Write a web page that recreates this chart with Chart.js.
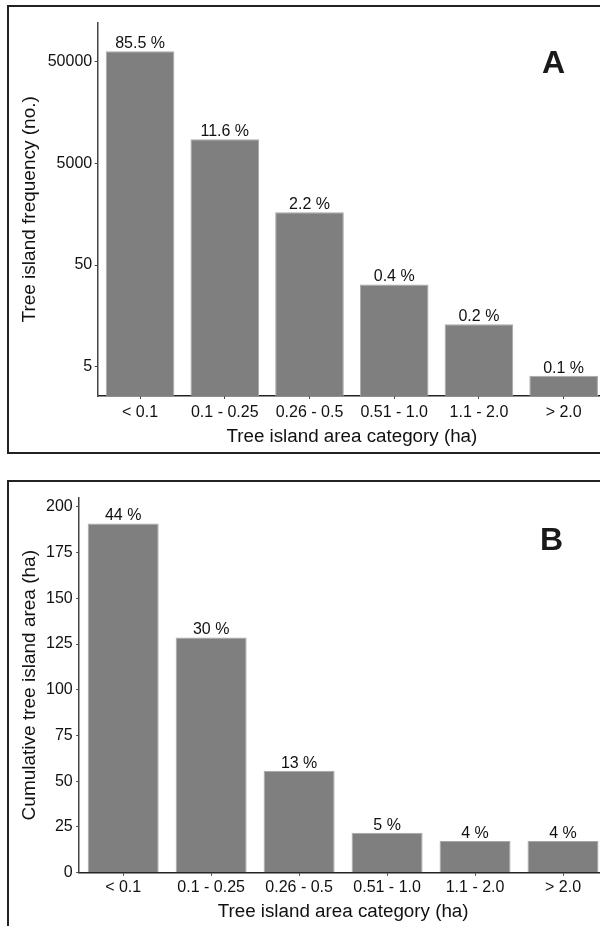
<!DOCTYPE html>
<html>
<head>
<meta charset="utf-8">
<script src="https://cdn.jsdelivr.net/npm/chart.js@4.4.0/dist/chart.umd.min.js"></script>
<style>
  html, body { margin: 0; padding: 0; background: #fff; overflow: hidden; }
  body { width: 600px; height: 926px; position: relative; font-family: "Liberation Sans", Arial, sans-serif; }
  .box { position: absolute; left: 7px; width: 700px; border: 2.5px solid #222; box-sizing: border-box; }
  #boxA { top: 5px; height: 449px; }
  #boxB { top: 480px; height: 600px; }
  canvas { position: absolute; left: 0; }
  #chartA { top: 0; }
  #chartB { top: 481px; }
  .letter { position: absolute; font: bold 32px "Liberation Sans", Arial, sans-serif; color: #1a1a1a; line-height: 32px; }
  #letterA { left: 542px; top: 46px; }
  #letterB { left: 540px; top: 523px; }
</style>
</head>
<body>
<div class="box" id="boxA"></div>
<div class="box" id="boxB"></div>
<canvas id="chartA" width="612" height="454"></canvas>
<canvas id="chartB" width="612" height="445"></canvas>
<div class="letter" id="letterA">A</div>
<div class="letter" id="letterB">B</div>
<script>
const categories = ['< 0.1', '0.1 - 0.25', '0.26 - 0.5', '0.51 - 1.0', '1.1 - 2.0', '> 2.0'];

// panel A: frequency on the log axis (in the axis' own units), and share of islands
const frequencyA = [6325, 862, 165, 32.3, 13.1, 4.08];
const percentA = [85.5, 11.6, 2.2, 0.4, 0.2, 0.1];
const tickValuesA = [5, 50, 500, 5000];
const tickLabelsA = ['5', '50', '5000', '50000'];

// panel B: cumulative area (ha) and share of total area
const areaB = [190.9, 128.6, 55.7, 21.9, 17.3, 17.3];
const percentB = [44, 30, 13, 5, 4, 4];
const tickValuesB = [0, 25, 50, 75, 100, 125, 150, 175, 200];

const FONT = "'Liberation Sans', Arial, sans-serif";
const TEXT = '#111';
Chart.defaults.font.family = FONT;
Chart.defaults.font.size = 16;
Chart.defaults.color = TEXT;

function barLabels(texts) {
  return {
    id: 'barLabels',
    afterDatasetsDraw(chart) {
      const ctx = chart.ctx;
      ctx.save();
      ctx.font = '16px ' + FONT;
      ctx.fillStyle = TEXT;
      ctx.textAlign = 'center';
      ctx.textBaseline = 'alphabetic';
      chart.getDatasetMeta(0).data.forEach((bar, i) => {
        ctx.fillText(texts[i], bar.x, bar.y - 3);
      });
      ctx.restore();
    }
  };
}

function makeChart(canvasId, opts) {
  return new Chart(document.getElementById(canvasId), {
    type: 'bar',
    data: {
      labels: categories,
      datasets: [{
        data: opts.values,
        backgroundColor: '#7f7f7f',
        borderColor: '#a8a8a8',
        borderWidth: 1,
        barPercentage: opts.barPct,
        categoryPercentage: 1.0,
      }],
    },
    options: {
      responsive: false,
      animation: false,
      layout: { padding: { top: opts.top, right: opts.right, left: 0, bottom: 0 } },
      plugins: { legend: { display: false }, tooltip: { enabled: false } },
      scales: {
        x: {
          grid: { display: true, drawOnChartArea: false, offset: false, tickLength: 3, color: '#444' },
          border: { color: '#222', width: 1.5 },
          ticks: { padding: opts.xTickPad, color: TEXT, maxRotation: 0 },
          title: { display: true, text: 'Tree island area category (ha)', color: TEXT,
                   font: { size: 18.8 }, padding: { top: 0, bottom: opts.xTitlePad } },
          afterFit(scale) { scale.height = opts.xHeight; },
        },
        y: opts.y,
      },
    },
    plugins: [barLabels(opts.labels)],
  });
}

makeChart('chartA', {
  values: frequencyA,
  labels: percentA.map(p => p.toFixed(1) + ' %'),
  barPct: 0.81,
  top: 22.7,
  right: 6,
  xHeight: 58,
  xTickPad: 4,
  xTitlePad: 5.7,
  y: {
    type: 'logarithmic',
    min: 2.58,
    max: 12085,
    grid: { display: true, drawOnChartArea: false, tickLength: 3, color: '#444' },
    border: { color: '#444', width: 1.5 },
    ticks: { padding: 2.5, color: TEXT, callback: (v, i) => tickLabelsA[i] },
    afterBuildTicks(scale) { scale.ticks = tickValuesA.map(v => ({ value: v })); },
    title: { display: true, text: 'Tree island frequency (no.)', color: TEXT,
             font: { size: 19 }, padding: { top: 18.6, bottom: 0 } },
    afterFit(scale) { scale.width = 97.7; },
  },
});

makeChart('chartB', {
  values: areaB,
  labels: percentB.map(p => p + ' %'),
  barPct: 0.807,
  top: 16.7,
  right: 5,
  xHeight: 53.3,
  xTickPad: 2.7,
  xTitlePad: 3.0,
  y: {
    min: 0,
    max: 205,
    grid: { display: true, drawOnChartArea: false, tickLength: 3, color: '#444' },
    border: { color: '#444', width: 1.5 },
    ticks: { padding: 3.5, color: TEXT },
    afterBuildTicks(scale) { scale.ticks = tickValuesB.map(v => ({ value: v })); },
    title: { display: true, text: 'Cumulative tree island area (ha)', color: TEXT,
             font: { size: 19 }, padding: { top: 18.6, bottom: 0 } },
    afterFit(scale) { scale.width = 79.2; },
  },
});
</script>
</body>
</html>
